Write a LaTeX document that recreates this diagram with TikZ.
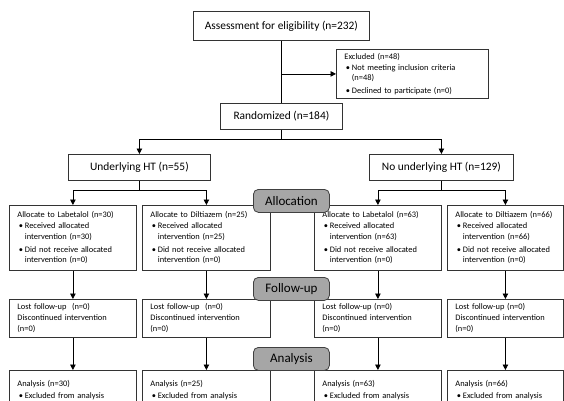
\documentclass[tikz,border=0pt]{standalone}
\usepackage{fontspec}
\setmainfont{Carlito}
\usetikzlibrary{arrows.meta}
\newcommand\bl{\makebox[7.5pt][l]{\hspace{1.5pt}•}}
\newcommand\ind{\hspace*{7.5pt}}
\tikzset{
  bx/.style={draw=black!80, line width=0.8pt, fill=white, anchor=north west,
    inner xsep=8pt, inner ysep=0pt, font=\fontsize{8.4}{10.8}\selectfont, align=left},
  big/.style={draw=black!80, line width=0.8pt, fill=white, anchor=north west,
    inner sep=0pt, font=\fontsize{11.4}{13}\selectfont, align=center},
  lab/.style={draw=black!75, line width=0.8pt, fill=black!35, rounded corners=5pt,
    anchor=north west, inner sep=0pt, minimum width=76pt, minimum height=23pt,
    font=\fontsize{13}{15}\selectfont},
  arr/.style={draw=black, line width=0.8pt, -{Triangle[length=5.5pt,width=5.5pt]}},
  ln/.style={draw=black, line width=0.8pt},
}
\begin{document}
\begin{tikzpicture}[x=1pt,y=-1pt]
\useasboundingbox (0,0) rectangle (564,400);
\clip (0,0) rectangle (564,400);
% top
\node[big, minimum width=176pt, minimum height=29pt] (ass) at (193,11) {Assessment for eligibility (n=232)};
\node[bx, text width=136pt, minimum height=49pt] (exc) at (336,49)
  {Excluded (n=48)\\ \bl Not meeting inclusion criteria\\ \ind (n=48)\\[1.5pt] \bl Declined to participate (n=0)};
\node[big, minimum width=122pt, minimum height=26pt] (rand) at (220,103) {Randomized (n=184)};
\node[big, minimum width=142pt, minimum height=26pt] (uht) at (68,154) {Underlying HT (n=55)};
\node[big, minimum width=144pt, minimum height=26pt] (nuht) at (369,154) {No underlying HT (n=129)};
% allocation row
\node[bx, text width=111pt, minimum height=65pt] (a1) at (9,205)
  {Allocate to Labetalol (n=30)\\ \bl Received allocated\\ \ind intervention (n=30)\\[2pt] \bl Did not receive allocated\\ \ind intervention (n=0)};
\node[bx, text width=112pt, minimum height=65pt] (a2) at (142,205)
  {Allocate to Diltiazem (n=25)\\ \bl Received allocated\\ \ind intervention (n=25)\\[2pt] \bl Did not receive allocated\\ \ind intervention (n=0)};
\node[bx, text width=111pt, minimum height=65pt] (a3) at (314,205)
  {Allocate to Labetalol (n=63)\\ \bl Received allocated\\ \ind intervention (n=63)\\[2pt] \bl Did not receive allocated\\ \ind intervention (n=0)};
\node[bx, text width=100pt, minimum height=65pt] (a4) at (447,205)
  {Allocate to Diltiazem (n=66)\\ \bl Received allocated\\ \ind intervention (n=66)\\[2pt] \bl Did not receive allocated\\ \ind intervention (n=0)};
% follow-up row
\tikzset{fu/.style={bx, minimum height=38pt, font=\fontsize{8.4}{11}\selectfont}}
\node[fu, text width=111pt] (f1) at (9,299) {Lost follow-up\ \ (n=0)\\Discontinued intervention\\(n=0)};
\node[fu, text width=112pt] (f2) at (142,299) {Lost follow-up\ \ (n=0)\\Discontinued intervention\\(n=0)};
\node[fu, text width=111pt] (f3) at (314,299) {Lost follow-up (n=0)\\Discontinued intervention\\(n=0)};
\node[fu, text width=100pt] (f4) at (447,299) {Lost follow-up (n=0)\\Discontinued intervention\\(n=0)};
% analysis row
\tikzset{an/.style={bx, minimum height=50pt}}
\node[an, text width=111pt] (n1) at (9,370) {Analysis (n=30)\\[1pt] \bl Excluded from analysis\\ \ind (n=0)};
\node[an, text width=112pt] (n2) at (142,370) {Analysis (n=25)\\[1pt] \bl Excluded from analysis\\ \ind (n=0)};
\node[an, text width=111pt] (n3) at (314,370) {Analysis (n=63)\\[1pt] \bl Excluded from analysis\\ \ind (n=0)};
\node[an, text width=100pt] (n4) at (447,370) {Analysis (n=66)\\[1pt] \bl Excluded from analysis\\ \ind (n=0)};
% connectors
\draw[ln] (ass.south) -- (rand.north);
\draw[arr] (ass.south |- exc.west) -- (exc.west);
\draw[arr] (rand.south) -- ++(0,10) -| (uht.north);
\draw[arr] (rand.south) -- ++(0,10) -| (nuht.north);
\draw[arr] (uht.south) -- ++(0,10) -| (a1.north);
\draw[arr] (uht.south) -- ++(0,10) -| (a2.north);
\draw[arr] (nuht.south) -- ++(0,10) -| (a3.north);
\draw[arr] (nuht.south) -- ++(0,10) -| (a4.north);
\foreach \i in {1,2,3,4} {
  \draw[arr] (a\i.south) -- (f\i.north);
  \draw[arr] (f\i.south) -- (n\i.north);
}
% stage labels
\node[lab] (lalloc) at (253,189) {Allocation};
\node[lab] (lfollow) at (253,277) {Follow-up};
\node[lab] (lanal) at (253,347) {Analysis};
\end{tikzpicture}
\end{document}
